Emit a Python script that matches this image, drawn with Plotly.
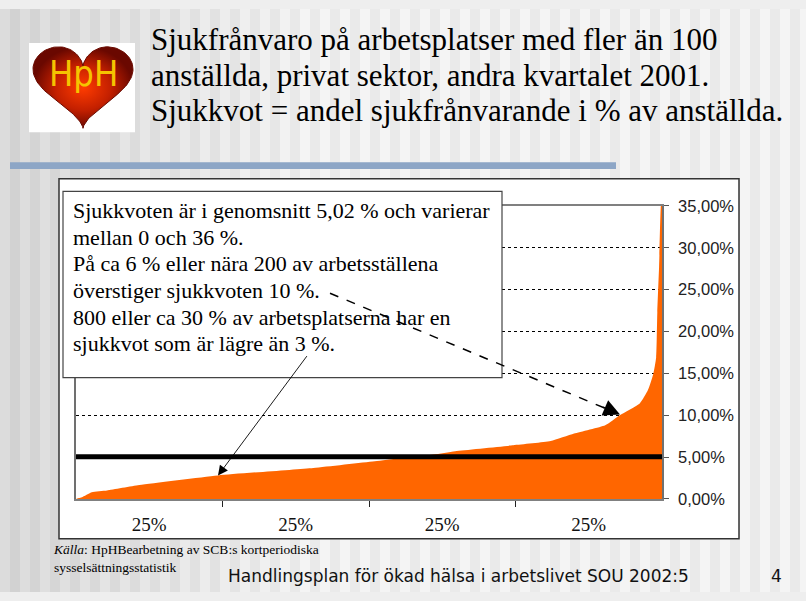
import numpy as np
import plotly.graph_objects as go

W, H = 806, 601

# ---- data ----
pct_of_workplaces = [0, 0.5, 1.0, 2.7, 5.3, 10.8, 24.2, 40.5, 51.0, 61.0, 64.7, 74.6, 81.0, 85.0,
                     90.3, 92.8, 96.2, 97.6, 98.5, 99.0, 99.2, 99.5, 99.8, 100.0]
sick_rate_pct = [0.0, 0.1, 0.2, 0.8, 1.0, 1.65, 2.8, 3.7, 4.5, 5.3, 5.7, 6.4, 6.9, 7.8,
                 8.8, 10.0, 11.4, 13.0, 14.9, 16.9, 22.3, 27.7, 35.0, 36.0]
mean_rate_pct = 5.02
quartile_label_pos = [12.5, 37.5, 62.5, 87.5]
quartile_labels = ["25%", "25%", "25%", "25%"]
quartile_bounds = [25, 50, 75]
y_ticks = [0, 5, 10, 15, 20, 25, 30, 35]
y_tick_labels = ["0,00%", "5,00%", "10,00%", "15,00%", "20,00%", "25,00%", "30,00%", "35,00%"]

title_lines = ["Sjukfrånvaro på arbetsplatser med fler än 100",
               "anställda, privat sektor, andra kvartalet 2001.",
               "Sjukkvot = andel sjukfrånvarande i % av anställda."]
box_lines = ["Sjukkvoten är i genomsnitt 5,02 % och varierar",
             "mellan 0 och 36 %.",
             "På ca 6 % eller nära 200 av arbetsställena",
             "överstiger sjukkvoten 10 %.",
             "800 eller ca 30 % av arbetsplatserna har en",
             "sjukkvot som är lägre än 3 %."]
footer_source = "<i>Källa</i>: HpHBearbetning av SCB:s kortperiodiska<br>sysselsättningsstatistik"
footer_text = "Handlingsplan för ökad hälsa i arbetslivet SOU 2002:5"
page_number = "4"

SERIF = "Liberation Serif, Times New Roman, Tinos, DejaVu Serif, serif"
SANS = "Liberation Sans, Arial, sans-serif"


def px(x):
    return x / W


def py(y):
    return 1 - y / H


fig = go.Figure()

# orange area
fig.add_trace(go.Scatter(x=pct_of_workplaces, y=sick_rate_pct, mode="lines",
                         line=dict(width=0, color="#FF6600", shape="spline", smoothing=0.5),
                         fill="tozeroy", fillcolor="#FF6600", hoverinfo="skip", showlegend=False))
# mean line
fig.add_trace(go.Scatter(x=[0, 100], y=[mean_rate_pct, mean_rate_pct], mode="lines",
                         line=dict(width=5, color="black"), hoverinfo="skip", showlegend=False))

# heart logo on a hidden full-page subplot (pixel coordinates)
t = np.linspace(0, 2 * np.pi, 200)
hx = 16 * np.sin(t) ** 3
hy = 13 * np.cos(t) - 5 * np.cos(2 * t) - 2 * np.cos(3 * t) - np.cos(4 * t)
sx = (133 - 33) / 32.0
sy = (123 - 39) / (hy.max() + 17)
heart_x = 83 + hx * sx
heart_y = 39 + (hy.max() - hy) * sy
fig.add_trace(go.Scatter(x=heart_x, y=heart_y, xaxis="x2", yaxis="y2", mode="lines",
                         line=dict(width=1, color="#6a0a00"), fill="toself",
                         fillgradient=dict(type="radial",
                                           colorscale=[[0, "#ff3c00"], [0.55, "#c42000"], [1, "#6a0800"]]),
                         hoverinfo="skip", showlegend=False))

shapes = []
# striped slide background
for i in range(0, W, 10):
    f = min(i / 300.0, 1.0)
    if (i // 10) % 2 == 0:
        c = int(0xdc + (0xf4 - 0xdc) * f)
    else:
        c = int(0xd2 + (0xea - 0xd2) * f)
    shapes.append(dict(type="rect", xref="paper", yref="paper", x0=px(i), x1=px(i + 10),
                       y0=0, y1=1, fillcolor="rgb(%d,%d,%d)" % (c, c, c), line=dict(width=0),
                       layer="below"))
# blue rule
shapes.append(dict(type="rect", xref="paper", yref="paper", x0=px(10), x1=px(616),
                   y0=py(165), y1=py(158), fillcolor="#8da6c6", line=dict(width=0), layer="below"))
# logo white square
shapes.append(dict(type="rect", xref="paper", yref="paper", x0=px(29), x1=px(135),
                   y0=py(127), y1=py(35), fillcolor="white", line=dict(width=0), layer="below"))
# chart white box
shapes.append(dict(type="rect", xref="paper", yref="paper", x0=px(59), x1=px(739),
                   y0=py(546), y1=py(175), fillcolor="white", line=dict(width=1.5, color="#333333"),
                   layer="below"))
# text box
shapes.append(dict(type="rect", xref="paper", yref="paper", x0=px(63), x1=px(502),
                   y0=py(380), y1=py(188), fillcolor="white", line=dict(width=1.2, color="#444444"),
                   layer="above"))
# dashed arrow shaft
tail = (330, 293)
tip = (620, 418)
dx, dy = tip[0] - tail[0], tip[1] - tail[1]
L = (dx * dx + dy * dy) ** 0.5
ux, uy = dx / L, dy / L
shapes.append(dict(type="line", xref="paper", yref="paper", x0=px(tail[0]), y0=py(tail[1]),
                   x1=px(tip[0] - ux * 12), y1=py(tip[1] - uy * 12),
                   line=dict(width=1.5, color="black", dash="dash"), layer="above"))

annotations = []
# title, one annotation per line for exact line spacing
for k, line in enumerate(title_lines):
    annotations.append(dict(xref="paper", yref="paper", x=px(149), y=py(31.7 + 36.7 * k),
                            xanchor="left", yanchor="middle", align="left", showarrow=False,
                            text=line, font=dict(family=SERIF, size=31, color="black")))
# text box lines
for k, line in enumerate(box_lines):
    annotations.append(dict(xref="paper", yref="paper", x=px(71), y=py(207.6 + 27.5 * k),
                            xanchor="left", yanchor="middle", align="left", showarrow=False,
                            text=line, font=dict(family=SERIF, size=22, color="black")))
annotations.append(dict(xref="paper", yref="paper", x=px(83), y=py(66), xanchor="center", yanchor="middle",
                        showarrow=False, text="HpH",
                        font=dict(family="Liberation Sans Narrow, DejaVu Sans Condensed, Liberation Sans",
                                  size=36, color="#f5c400")))
# solid arrow
annotations.append(dict(xref="paper", yref="paper", x=px(218), y=py(481), ax=308 - 218, ay=360 - 481,
                        axref="pixel", ayref="pixel", text="", showarrow=True, arrowhead=2,
                        arrowsize=2.2, arrowwidth=0.9, arrowcolor="black"))
# dashed arrow head
annotations.append(dict(xref="paper", yref="paper", x=px(tip[0]), y=py(tip[1]), ax=-ux * 20, ay=-uy * 20,
                        axref="pixel", ayref="pixel", text="", showarrow=True, arrowhead=2,
                        arrowsize=2.2, arrowwidth=1.5, arrowcolor="black"))
# footer
annotations.append(dict(xref="paper", yref="paper", x=px(51), y=py(547), xanchor="left", yanchor="top",
                        align="left", showarrow=False, text=footer_source,
                        font=dict(family=SERIF, size=13.5, color="black")))
annotations.append(dict(xref="paper", yref="paper", x=px(458), y=py(585), xanchor="center", yanchor="middle",
                        showarrow=False, text=footer_text,
                        font=dict(family="DejaVu Sans", size=17, color="#111111")))
annotations.append(dict(xref="paper", yref="paper", x=px(776), y=py(585), xanchor="center", yanchor="middle",
                        showarrow=False, text=page_number,
                        font=dict(family="DejaVu Sans", size=17, color="#111111")))

fig.update_layout(
    width=W, height=H, margin=dict(l=0, r=0, t=0, b=0),
    paper_bgcolor="#eeeeee", plot_bgcolor="rgba(0,0,0,0)",
    showlegend=False,
    shapes=shapes, annotations=annotations,
    xaxis=dict(domain=[px(76), px(662)], range=[0, 100], showgrid=False, zeroline=False,
               showline=True, linecolor="#808080", linewidth=1.5, mirror=True,
               tickmode="array", tickvals=quartile_label_pos, ticktext=quartile_labels, ticks="",
               ticklabelstandoff=8,
               tickfont=dict(family=SERIF, size=19, color="#111111"),
               minor=dict(tickmode="array", tickvals=quartile_bounds, ticks="outside", ticklen=6,
                          tickcolor="#222222", tickwidth=1, showgrid=False),
               fixedrange=True),
    yaxis=dict(domain=[py(505), py(203)], range=[0, 35], side="right", anchor="x",
               tickmode="array", tickvals=y_ticks, ticktext=y_tick_labels,
               ticks="outside", ticklen=5, tickcolor="#555555",
               showline=True, linecolor="#707070", linewidth=1.5, mirror=True,
               showgrid=True, gridcolor="black", griddash="dot", gridwidth=1, zeroline=False,
               ticklabelstandoff=6,
               tickfont=dict(family=SANS, size=16.5, color="#222222"),
               fixedrange=True),
    xaxis2=dict(domain=[0, 1], range=[0, W], visible=False, anchor="y2", fixedrange=True),
    yaxis2=dict(domain=[0, 1], range=[H, 0], visible=False, anchor="x2", fixedrange=True),
)

fig.write_html("out.html", config={"displayModeBar": False},
               post_script="document.body.style.margin='0px';")
